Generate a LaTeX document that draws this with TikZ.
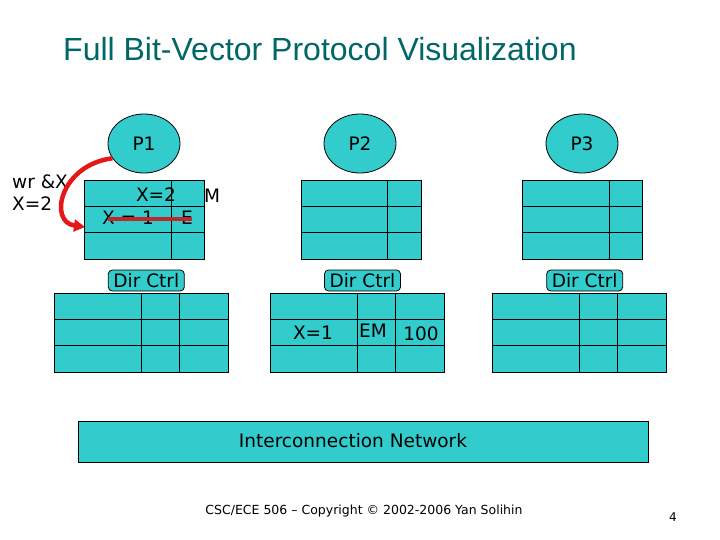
\documentclass[tikz,border=0pt]{standalone}
\usepackage{fontspec}
\setmainfont{DejaVu Sans}
\newfontfamily\titlefont{Liberation Sans}
\usetikzlibrary{arrows.meta,shapes.geometric,calc}
\definecolor{turq}{RGB}{51,204,204}
\definecolor{titleteal}{RGB}{0,102,102}
\definecolor{arrred}{RGB}{228,24,24}
\definecolor{strikered}{RGB}{190,40,40}
\tikzset{
  bodyfont/.style={font=\fontsize{18.5}{22}\selectfont},
  proc/.style={ellipse, draw, fill=turq, line width=0.8pt, minimum width=72pt, minimum height=59pt, inner sep=0pt, bodyfont},
  tbl/.style={draw, fill=turq, line width=0.9pt, inner sep=0pt, anchor=north west},
  cachebox/.style={tbl, minimum width=120pt, minimum height=78pt},
  dirbox/.style={tbl, minimum width=174pt, minimum height=79pt},
  dirlabel/.style={draw, fill=turq, rounded corners=4pt, line width=0.8pt, minimum width=76pt, minimum height=21pt, inner sep=0pt, bodyfont},
  celltext/.style={inner sep=0pt, bodyfont},
  netbox/.style={tbl, minimum width=570pt, minimum height=41pt},
  gridline/.style={line width=0.9pt},
}
\newcommand{\cachegrid}[1]{%
  \draw[gridline] (#1.north west) ++(87,0) -- ++(0,78);
  \draw[gridline] (#1.north west) ++(0,26) -- ++(120,0);
  \draw[gridline] (#1.north west) ++(0,52) -- ++(120,0);
}
\newcommand{\dirgrid}[1]{%
  \draw[gridline] (#1.north west) ++(87,0) -- ++(0,79);
  \draw[gridline] (#1.north west) ++(125,0) -- ++(0,79);
  \draw[gridline] (#1.north west) ++(0,27) -- ++(174,0);
  \draw[gridline] (#1.north west) ++(0,53) -- ++(174,0);
}
\begin{document}
\begin{tikzpicture}[x=1pt,y=-1pt]
\useasboundingbox (0,0) rectangle (720,540);

% title
\node[anchor=base west, inner sep=0pt, text=titleteal, font=\titlefont\fontsize{32}{36}\selectfont] (title) at (63,61) {Full Bit-Vector Protocol Visualization};

% processors
\node[proc] (p1) at (144,143.5) {P1};
\node[proc] (p2) at (360,143.5) {P2};
\node[proc] (p3) at (582,143.5) {P3};

% caches
\node[cachebox] (c1) at (84.3,180.5) {};
\node[cachebox] (c2) at (300.7,180.5) {};
\node[cachebox] (c3) at (522.3,180.5) {};
\cachegrid{c1}
\cachegrid{c2}
\cachegrid{c3}

% cache contents P1
\node[celltext] (cx2) at (156,195) {X=2};
\node[celltext] (cm) at (212,196) {M};
\node[celltext] (cx1) at (128,218) {X = 1};
\node[celltext] (ce) at (187,218) {E};
\draw[strikered, line width=4.5pt] (108,219) -- (192,219);

% write label
\node[anchor=west, inner sep=0pt, align=left, font=\fontsize{18.5}{22}\selectfont] (wr) at (12,193) {wr \&X\\X=2};

% arrow from P1
\coordinate (arrend) at (85,227);
\draw[arrred, line width=4.5pt, -{Triangle[length=11pt,width=12pt]}] (p1.205) .. controls (60,165) and (48,222) .. (arrend);

% directory labels
\node[dirlabel] (d1l) at (146.3,280.5) {Dir Ctrl};
\node[dirlabel] (d2l) at (362.5,280.5) {Dir Ctrl};
\node[dirlabel] (d3l) at (584.7,280.5) {Dir Ctrl};

% directory tables
\node[dirbox] (d1) at (54,292.5) {};
\node[dirbox] (d2) at (270.3,292.5) {};
\node[dirbox] (d3) at (492.3,292.5) {};
\dirgrid{d1}
\dirgrid{d2}
\dirgrid{d3}

% directory contents P2
\node[celltext] (dx1) at (313,333) {X=1};
\node[celltext] (dem) at (373,331) {EM};
\node[celltext] (d100) at (421,334) {100};

% network
\node[netbox] (net) at (78.3,420.7) {};
\node[bodyfont, inner sep=0pt] (netlabel) at (353,441) {Interconnection Network};

% footer
\node[font=\fontsize{12.5}{14}\selectfont, inner sep=0pt] (footer) at (364,511) {CSC/ECE 506 – Copyright © 2002-2006 Yan Solihin};
\node[font=\fontsize{12}{14}\selectfont, inner sep=0pt] (pagenum) at (673,517) {4};
\end{tikzpicture}
\end{document}
